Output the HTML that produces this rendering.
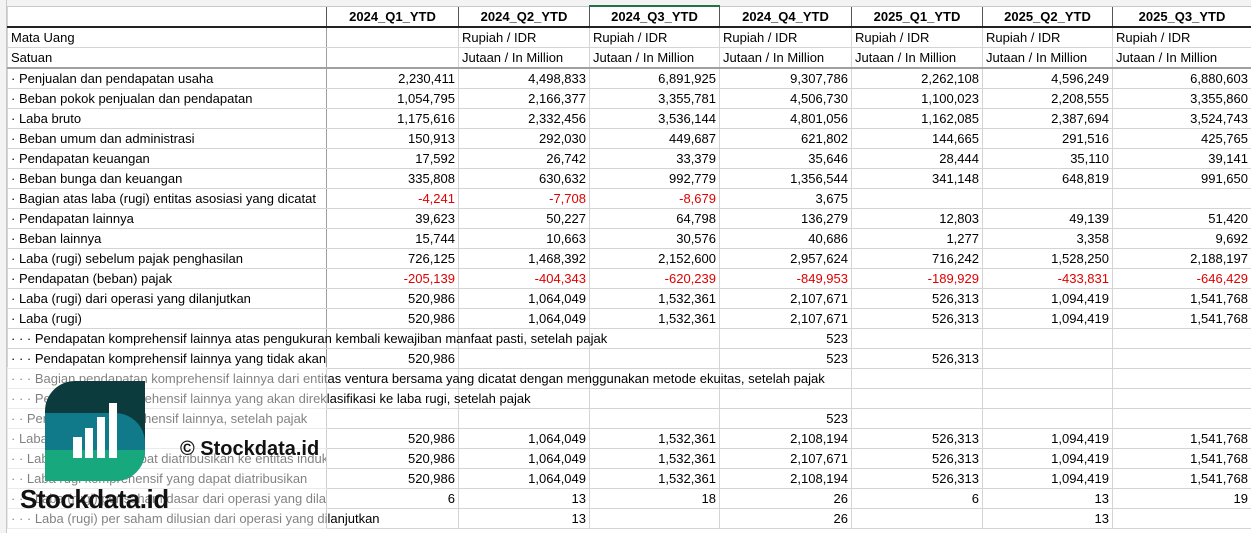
<!DOCTYPE html>
<html><head><meta charset="utf-8">
<style>
html,body{margin:0;padding:0;background:#fff;width:1251px;height:533px;overflow:hidden}
body{font-family:"Liberation Sans",Arial,sans-serif;font-size:13px;color:#000;position:relative}
table{position:absolute;left:7px;top:7px;width:1244px;border-collapse:collapse;table-layout:fixed}
td{height:19px;padding:0 3px;border:1px solid #d4d4d4;white-space:nowrap;overflow:hidden;line-height:19px;position:relative}
td.a{border-right:1px solid #9e9e9e}
td.n{text-align:right}
td.o{overflow:visible}
td.o span{position:absolute;left:3px;top:0;z-index:2}
.r{color:#e00000}
tr.h td{font-weight:bold;text-align:center;border:1px solid #555;border-top:none}
tr.h td.a{border-left:1px solid #d4d4d4}
tr.s td{border-bottom:2px solid #a0a0a0}
tr.h td{border-bottom:2px solid #222}
.topstrip{position:absolute;left:0;top:0;width:1251px;height:6px;background:#f3f3f3;border-bottom:1px solid #c8c8c8}
.leftstrip{position:absolute;left:0;top:0;width:6px;height:533px;background:#f3f3f3;border-right:1px solid #c8c8c8}
.sel{position:absolute;left:589px;top:5px;width:131px;height:2px;background:#217346}
.fade{position:absolute;left:7px;top:367px;width:320px;height:166px;background:rgba(255,255,255,0.5);z-index:5}
.wm1{position:absolute;left:180px;top:438px;font-size:20px;font-weight:bold;color:#111;z-index:6}
.wm2{position:absolute;left:20px;top:484px;font-size:26px;font-weight:bold;color:#111;z-index:6;letter-spacing:-0.5px}
svg.logo{position:absolute;left:45px;top:381px;z-index:6}
</style></head><body>
<div class="topstrip"></div><div class="leftstrip"></div><div class="sel"></div>
<table>
<colgroup><col style="width:319px"><col style="width:132px"><col style="width:131px"><col style="width:130px"><col style="width:132px"><col style="width:131px"><col style="width:130px"><col style="width:139px"></colgroup>
<tr class="h"><td class="a"></td><td>2024_Q1_YTD</td><td>2024_Q2_YTD</td><td>2024_Q3_YTD</td><td>2024_Q4_YTD</td><td>2025_Q1_YTD</td><td>2025_Q2_YTD</td><td>2025_Q3_YTD</td></tr>
<tr><td class="a">Mata Uang</td><td></td><td>Rupiah / IDR</td><td>Rupiah / IDR</td><td>Rupiah / IDR</td><td>Rupiah / IDR</td><td>Rupiah / IDR</td><td>Rupiah / IDR</td></tr>
<tr class="s"><td class="a">Satuan</td><td></td><td>Jutaan / In Million</td><td>Jutaan / In Million</td><td>Jutaan / In Million</td><td>Jutaan / In Million</td><td>Jutaan / In Million</td><td>Jutaan / In Million</td></tr>
<tr><td class="a">· Penjualan dan pendapatan usaha</td><td class="n">2,230,411</td><td class="n">4,498,833</td><td class="n">6,891,925</td><td class="n">9,307,786</td><td class="n">2,262,108</td><td class="n">4,596,249</td><td class="n">6,880,603</td></tr>
<tr><td class="a">· Beban pokok penjualan dan pendapatan</td><td class="n">1,054,795</td><td class="n">2,166,377</td><td class="n">3,355,781</td><td class="n">4,506,730</td><td class="n">1,100,023</td><td class="n">2,208,555</td><td class="n">3,355,860</td></tr>
<tr><td class="a">· Laba bruto</td><td class="n">1,175,616</td><td class="n">2,332,456</td><td class="n">3,536,144</td><td class="n">4,801,056</td><td class="n">1,162,085</td><td class="n">2,387,694</td><td class="n">3,524,743</td></tr>
<tr><td class="a">· Beban umum dan administrasi</td><td class="n">150,913</td><td class="n">292,030</td><td class="n">449,687</td><td class="n">621,802</td><td class="n">144,665</td><td class="n">291,516</td><td class="n">425,765</td></tr>
<tr><td class="a">· Pendapatan keuangan</td><td class="n">17,592</td><td class="n">26,742</td><td class="n">33,379</td><td class="n">35,646</td><td class="n">28,444</td><td class="n">35,110</td><td class="n">39,141</td></tr>
<tr><td class="a">· Beban bunga dan keuangan</td><td class="n">335,808</td><td class="n">630,632</td><td class="n">992,779</td><td class="n">1,356,544</td><td class="n">341,148</td><td class="n">648,819</td><td class="n">991,650</td></tr>
<tr><td class="a">· Bagian atas laba (rugi) entitas asosiasi yang dicatat</td><td class="n r">-4,241</td><td class="n r">-7,708</td><td class="n r">-8,679</td><td class="n">3,675</td><td></td><td></td><td></td></tr>
<tr><td class="a">· Pendapatan lainnya</td><td class="n">39,623</td><td class="n">50,227</td><td class="n">64,798</td><td class="n">136,279</td><td class="n">12,803</td><td class="n">49,139</td><td class="n">51,420</td></tr>
<tr><td class="a">· Beban lainnya</td><td class="n">15,744</td><td class="n">10,663</td><td class="n">30,576</td><td class="n">40,686</td><td class="n">1,277</td><td class="n">3,358</td><td class="n">9,692</td></tr>
<tr><td class="a">· Laba (rugi) sebelum pajak penghasilan</td><td class="n">726,125</td><td class="n">1,468,392</td><td class="n">2,152,600</td><td class="n">2,957,624</td><td class="n">716,242</td><td class="n">1,528,250</td><td class="n">2,188,197</td></tr>
<tr><td class="a">· Pendapatan (beban) pajak</td><td class="n r">-205,139</td><td class="n r">-404,343</td><td class="n r">-620,239</td><td class="n r">-849,953</td><td class="n r">-189,929</td><td class="n r">-433,831</td><td class="n r">-646,429</td></tr>
<tr><td class="a">· Laba (rugi) dari operasi yang dilanjutkan</td><td class="n">520,986</td><td class="n">1,064,049</td><td class="n">1,532,361</td><td class="n">2,107,671</td><td class="n">526,313</td><td class="n">1,094,419</td><td class="n">1,541,768</td></tr>
<tr><td class="a">· Laba (rugi)</td><td class="n">520,986</td><td class="n">1,064,049</td><td class="n">1,532,361</td><td class="n">2,107,671</td><td class="n">526,313</td><td class="n">1,094,419</td><td class="n">1,541,768</td></tr>
<tr><td class="a o"><span>· · · Pendapatan komprehensif lainnya atas pengukuran kembali kewajiban manfaat pasti, setelah pajak</span></td><td></td><td></td><td></td><td class="n">523</td><td></td><td></td><td></td></tr>
<tr><td class="a">· · · Pendapatan komprehensif lainnya yang tidak akan direklasifikasi</td><td class="n">520,986</td><td></td><td></td><td class="n">523</td><td class="n">526,313</td><td></td><td></td></tr>
<tr><td class="a o"><span>· · · Bagian pendapatan komprehensif lainnya dari entitas ventura bersama yang dicatat dengan menggunakan metode ekuitas, setelah pajak</span></td><td></td><td></td><td></td><td></td><td></td><td></td><td></td></tr>
<tr><td class="a o"><span>· · · Pendapatan komprehensif lainnya yang akan direklasifikasi ke laba rugi, setelah pajak</span></td><td></td><td></td><td></td><td></td><td></td><td></td><td></td></tr>
<tr><td class="a">· · Pendapatan komprehensif lainnya, setelah pajak</td><td></td><td></td><td></td><td class="n">523</td><td></td><td></td><td></td></tr>
<tr><td class="a">· Laba komprehensif</td><td class="n">520,986</td><td class="n">1,064,049</td><td class="n">1,532,361</td><td class="n">2,108,194</td><td class="n">526,313</td><td class="n">1,094,419</td><td class="n">1,541,768</td></tr>
<tr><td class="a">· · Laba (rugi) yang dapat diatribusikan ke entitas induk</td><td class="n">520,986</td><td class="n">1,064,049</td><td class="n">1,532,361</td><td class="n">2,107,671</td><td class="n">526,313</td><td class="n">1,094,419</td><td class="n">1,541,768</td></tr>
<tr><td class="a">· · Laba rugi komprehensif yang dapat diatribusikan</td><td class="n">520,986</td><td class="n">1,064,049</td><td class="n">1,532,361</td><td class="n">2,108,194</td><td class="n">526,313</td><td class="n">1,094,419</td><td class="n">1,541,768</td></tr>
<tr><td class="a">· · · Laba (rugi) per saham dasar dari operasi yang dilanjutkan</td><td class="n">6</td><td class="n">13</td><td class="n">18</td><td class="n">26</td><td class="n">6</td><td class="n">13</td><td class="n">19</td></tr>
<tr><td class="a o"><span>· · · Laba (rugi) per saham dilusian dari operasi yang dilanjutkan</span></td><td></td><td class="n">13</td><td></td><td class="n">26</td><td></td><td class="n">13</td><td></td></tr>
</table>
<div class="fade"></div>
<svg class="logo" width="100" height="100" viewBox="0 0 100 100">
<defs><clipPath id="c"><path d="M30 0 H100 V70 A30 30 0 0 1 70 100 H0 V30 A30 30 0 0 1 30 0 Z"/></clipPath></defs>
<g clip-path="url(#c)">
<rect x="0" y="0" width="100" height="100" fill="#0b3b3d"/>
<path d="M0 32 H70 A30 30 0 0 1 100 62 V100 H0 Z" fill="#10798a"/>
<path d="M0 69 H100 V100 H0 Z" fill="#17a97d"/>
</g>
<rect x="28" y="56" width="9" height="21" fill="#fff"/>
<rect x="40" y="47" width="8" height="30" fill="#fff"/>
<rect x="52" y="36" width="8" height="41" fill="#fff"/>
<rect x="64" y="22" width="8" height="55" fill="#fff"/>
</svg>
<div class="wm1">© Stockdata.id</div>
<div class="wm2">Stockdata.id</div>
</body></html>
